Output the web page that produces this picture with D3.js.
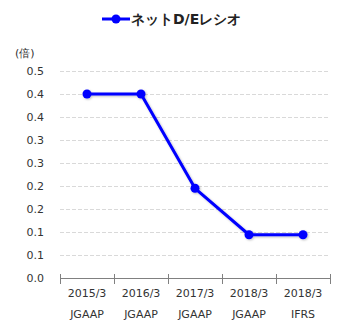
<!DOCTYPE html>
<html>
<head>
<meta charset="utf-8">
<script src="https://cdn.jsdelivr.net/npm/d3@7"></script>
<style>
  html, body { margin: 0; padding: 0; background: #fff; }
  svg { display: block; }
  text { font-family: "DejaVu Sans", Verdana, sans-serif; }
</style>
</head>
<body>
<svg id="chart" width="345" height="330"></svg>
<script>
// Fiscal periods and accounting standards (two-line category labels)
const periods = ["2015/3", "2016/3", "2017/3", "2018/3", "2018/3"];
const standards = ["JGAAP", "JGAAP", "JGAAP", "JGAAP", "IFRS"];
// Net D/E ratio (times)
const netDE = [0.40, 0.40, 0.195, 0.094, 0.094];
// Y axis ticks and their displayed labels
const yTicks = [0, 0.05, 0.10, 0.15, 0.20, 0.25, 0.30, 0.35, 0.40, 0.45];
const yTickLabels = ["0.0", "0.1", "0.1", "0.2", "0.2", "0.3", "0.3", "0.4", "0.4", "0.5"];
const seriesName = "ネットD/Eレシオ";
const unitLabel = "(倍)";

const svg = d3.select("#chart");
const blue = "#0000ff";
const textColor = "#333333";

const x = d3.scaleBand().domain(d3.range(periods.length)).range([60, 330]);
const y = d3.scaleLinear().domain([0, 0.45]).range([278, 71]);

// soft shadow under the series
const defs = svg.append("defs");
const f = defs.append("filter").attr("id", "shadow")
  .attr("x", "-20%").attr("y", "-20%").attr("width", "140%").attr("height", "140%");
f.append("feDropShadow").attr("dx", 1).attr("dy", 1)
  .attr("stdDeviation", 1).attr("flood-color", "#000").attr("flood-opacity", 0.25);

// horizontal grid lines
svg.append("g").selectAll("line")
  .data(yTicks.filter(d => d > 0))
  .join("line")
  .attr("x1", 60).attr("x2", 330)
  .attr("y1", d => Math.round(y(d)) + 0.5).attr("y2", d => Math.round(y(d)) + 0.5)
  .attr("stroke", "#d9d9d9").attr("stroke-width", 1)
  .attr("stroke-dasharray", "4,2");

// y axis labels
const yAxis = d3.axisLeft(y).tickValues(yTicks)
  .tickFormat((d, i) => yTickLabels[i]).tickSize(0).tickPadding(0);
const gy = svg.append("g").attr("transform", "translate(44,0)").call(yAxis);
gy.select(".domain").remove();
gy.selectAll("text").attr("font-size", 11).attr("fill", textColor)
  .attr("font-family", "'DejaVu Sans', Verdana, sans-serif");

// x axis with boundary ticks
const xAxisY = 278;
svg.append("line")
  .attr("x1", 60).attr("x2", 330)
  .attr("y1", xAxisY + 0.5).attr("y2", xAxisY + 0.5)
  .attr("stroke", "#808080").attr("stroke-width", 1);
const boundaries = d3.range(periods.length + 1).map(i => i < periods.length ? x(i) : x.range()[1]);
svg.append("g").selectAll("line")
  .data(boundaries)
  .join("line")
  .attr("x1", d => Math.round(d) + 0.5).attr("x2", d => Math.round(d) + 0.5)
  .attr("y1", 274).attr("y2", 284)
  .attr("stroke", "#808080").attr("stroke-width", 1);

// category labels
const cats = svg.append("g").selectAll("g")
  .data(d3.range(periods.length))
  .join("g")
  .attr("transform", i => `translate(${x(i) + x.bandwidth() / 2},0)`);
cats.append("text").attr("y", 297).attr("text-anchor", "middle")
  .attr("font-size", 11).attr("fill", textColor).text(i => periods[i]);
cats.append("text").attr("y", 318).attr("text-anchor", "middle")
  .attr("font-size", 11).attr("fill", textColor).text(i => standards[i]);

// unit label
svg.append("text").attr("x", 15).attr("y", 57)
  .attr("font-size", 11).attr("fill", textColor).text(unitLabel);

// series line and markers
const cx = i => x(i) + x.bandwidth() / 2;
const line = d3.line().x((d, i) => cx(i)).y(d => y(d));
const series = svg.append("g").attr("filter", "url(#shadow)");
series.append("path").datum(netDE)
  .attr("d", line).attr("fill", "none")
  .attr("stroke", blue).attr("stroke-width", 3).attr("stroke-linejoin", "round");
series.selectAll("circle").data(netDE).join("circle")
  .attr("cx", (d, i) => cx(i)).attr("cy", d => y(d)).attr("r", 4.5)
  .attr("fill", blue);

// legend
const lg = svg.append("g");
lg.append("line").attr("x1", 102).attr("x2", 130).attr("y1", 19).attr("y2", 19)
  .attr("stroke", blue).attr("stroke-width", 3);
lg.append("circle").attr("cx", 116).attr("cy", 19).attr("r", 4.5).attr("fill", blue);
lg.append("text").attr("x", 131).attr("y", 24)
  .attr("font-size", 14).attr("font-weight", "bold").attr("fill", "#222")
  .attr("font-family", "'Noto Sans CJK JP', sans-serif")
  .text(seriesName);
</script>
</body>
</html>
